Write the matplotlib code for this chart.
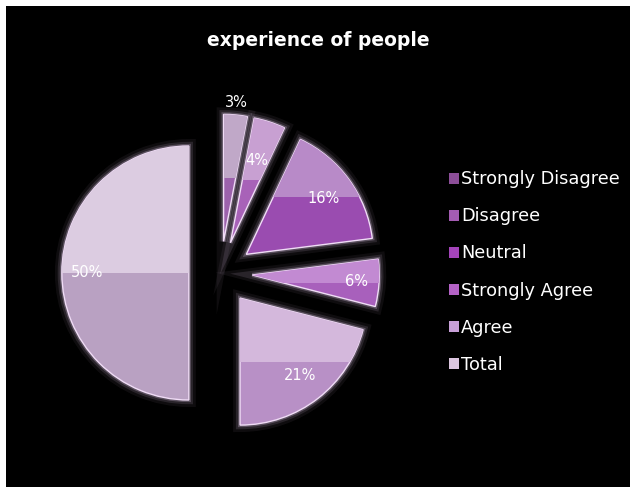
import matplotlib
matplotlib.use("Agg")
import matplotlib.pyplot as plt
from matplotlib.patches import Rectangle, PathPatch
import numpy as np

# ------------------- Data -------------------
categories = ["Strongly Disagree", "Disagree", "Neutral", "Strongly Agree", "Agree", "Total"]
values = [3, 4, 16, 6, 21, 50]

# lower / upper halves of each glossy slice, plus legend swatches
lower_colors = ["#9c62ac", "#a862b8", "#9a4cb0", "#a860bc", "#b890c6", "#b9a1c2"]
upper_colors = ["#c0a8c8", "#c8a0d2", "#b88ac8", "#c28ad2", "#d4b8dc", "#dccce1"]
legend_colors = ["#8c4e98", "#a45cb2", "#a444ba", "#b462c6", "#c8a0d8", "#dcc6e0"]
label_dist = [1.1, 0.68, 0.75, 0.82, 0.77, 0.8]

fig = plt.figure(figsize=(6.3, 4.87), dpi=100)
fig.patch.set_facecolor("white")
fig.add_artist(Rectangle((6 / 630, 0), 1, 481 / 487, transform=fig.transFigure,
                         facecolor="black", edgecolor="none", zorder=-10))

ax = fig.add_axes([0, 0, 1, 1])
ax.set_facecolor("none")

wedges, texts, autotexts = ax.pie(
    values, colors=lower_colors, startangle=90, counterclock=False,
    explode=[0.25] * len(values), autopct="%1.0f%%",
    wedgeprops=dict(edgecolor="#f0dcf6", linewidth=1.0),
    textprops=dict(color="white", fontsize=10.5))

for i, w in enumerate(wedges):
    # soft halo around each slice
    for lw, a in [(10, 0.06), (6, 0.12), (3, 0.25)]:
        ax.add_patch(PathPatch(w.get_path(), facecolor="none", edgecolor="#f0d4fa",
                               linewidth=lw, alpha=a, zorder=0.5))

    # lighter upper half (gloss)
    verts = w.get_path().vertices
    xmin, ymin = verts.min(axis=0)
    xmax, ymax = verts.max(axis=0)
    ymid = (ymin + ymax) / 2
    top = Rectangle((xmin, ymid), xmax - xmin, ymax - ymid,
                    facecolor=upper_colors[i], edgecolor="none", zorder=w.get_zorder() + 0.1)
    ax.add_patch(top)
    top.set_clip_path(w)

    ang = np.deg2rad((w.theta1 + w.theta2) / 2)
    cx, cy = w.center
    autotexts[i].set_position((cx + label_dist[i] * w.r * np.cos(ang),
                               cy + label_dist[i] * w.r * np.sin(ang)))
    autotexts[i].set_zorder(5)

# 127 px per unit, pie centre at (220.6, 273) px from top-left
ax.set_aspect("auto")
ax.set_xlim(-220.6 / 127, (630 - 220.6) / 127)
ax.set_ylim(-(487 - 273) / 127, 273 / 127)
ax.axis("off")

fig.text(0.505, 1 - 40 / 487, "experience of people", ha="center", va="center",
         fontsize=13.5, fontweight="bold", color="white")

handles = [Rectangle((0, 0), 1, 1, facecolor=c, edgecolor="none") for c in legend_colors]
leg = fig.legend(handles, categories, loc="center left", bbox_to_anchor=(440 / 630, 1 - 272 / 487),
                 frameon=False, fontsize=12.8, labelcolor="white", handlelength=0.55,
                 handleheight=0.55, handletextpad=0.12, labelspacing=1.07, borderpad=0)

fig.savefig("out.png", dpi=100, facecolor=fig.get_facecolor())
